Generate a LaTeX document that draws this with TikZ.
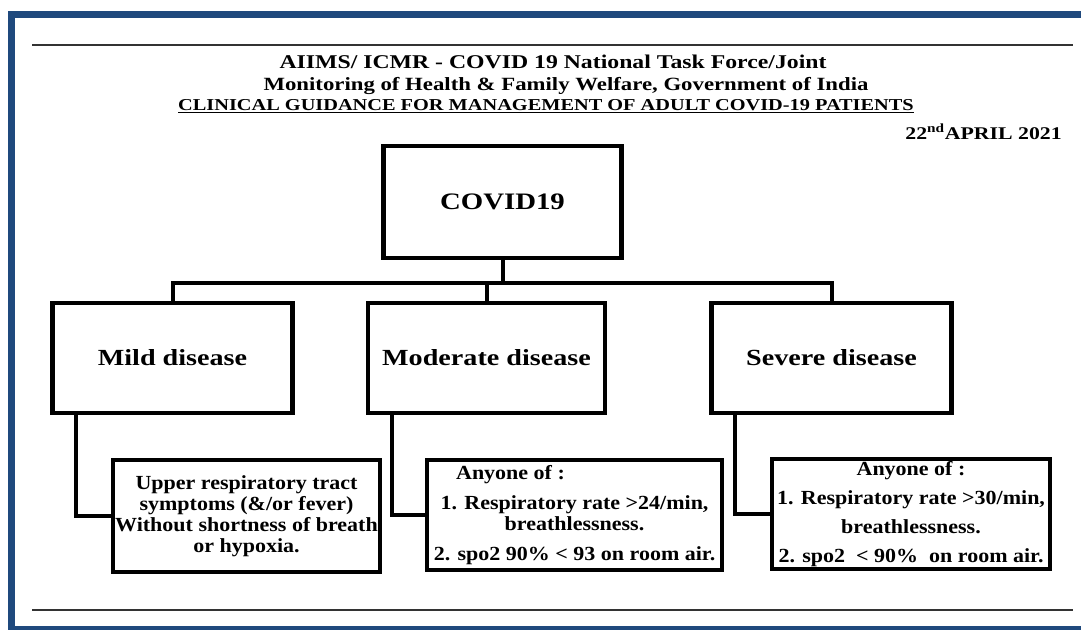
\documentclass[tikz,border=0pt]{standalone}
\usepackage{fontspec}
\setmainfont{Liberation Serif}
\newfontfamily\headfont[FakeStretch=1.22]{Liberation Serif}
\newfontfamily\notefont[FakeStretch=1.1]{Liberation Serif}
\usetikzlibrary{calc,shadows}
\definecolor{frameblue}{RGB}{31,73,125}
\tikzset{
  box/.style={draw, line width=3.6pt, fill=white, inner sep=0pt, align=center,
    drop shadow={shadow xshift=1.2pt, shadow yshift=-1.2pt, opacity=0.25}},
  head/.style={box, font=\headfont\bfseries\fontsize{17.3}{21}\selectfont},
  note/.style={box, line width=3.2pt, font=\notefont\bfseries\fontsize{15}{15.75}\selectfont},
  link/.style={line width=3pt},
  title/.style={inner sep=0pt, font=\headfont\bfseries\fontsize{14}{17}\selectfont},
  rule/.style={line width=1pt, black!80}
}

\begin{document}
\begin{tikzpicture}[x=0.75pt,y=0.75pt,yscale=-1,xscale=1]
\useasboundingbox (0,0) rectangle (1081,630);

%Frame
\draw[frameblue, line width=5.25pt] (1081,14.5) -- (11.5,14.5) -- (11.5,629) -- (1081,629);
%Straight Lines
\draw[rule] (32,45) -- (1073,45);
%Straight Lines
\draw[rule] (32,610) -- (1073,610);

%Text
\node[title, font=\headfont\bfseries\fontsize{14.6}{17}\selectfont] (title1) at (553,62) {AIIMS/ ICMR - COVID 19 National Task Force/Joint};
\node[title] (title2) at (566,86) {Monitoring of Health \& Family Welfare, Government of India};
\node[title, font=\headfont\bfseries\fontsize{12.5}{15}\selectfont] (title3) at (546,106) {\underline{CLINICAL GUIDANCE FOR MANAGEMENT OF ADULT COVID-19 PATIENTS}};
\node[title, anchor=east, font=\headfont\bfseries\fontsize{13.4}{16}\selectfont] (date) at (1062,132) {22\textsuperscript{nd}APRIL 2021};

%Shape: Rectangle
\node[head, minimum width=179pt, minimum height=84pt, font=\headfont\bfseries\fontsize{17.7}{21}\selectfont] (covid) at (502.5,202) {COVID19};
%Shape: Rectangle
\node[head, minimum width=180pt, minimum height=82.5pt] (mild) at (172.5,358) {Mild disease};
\node[head, minimum width=177.75pt, minimum height=82.5pt] (moderate) at (486.5,358) {Moderate disease};
\node[head, minimum width=180pt, minimum height=82.5pt] (severe) at (831.5,358) {Severe disease};

%Shape: Rectangle
\node[note, minimum width=200pt, minimum height=84pt] (mildsub) at (246.5,516) {Upper respiratory tract\\ symptoms (\&/or fever)\\ Without shortness of breath\\ or hypoxia.};
\node[note, minimum width=221pt, minimum height=82.5pt] (modsub) at (574.5,515) {Anyone of :\hspace*{96pt}\\[6.75pt] 1. Respiratory rate >24/min,\\ breathlessness.\\[6.75pt] 2. spo2 90\% < 93 on room air.};
\node[note, minimum width=208.5pt, minimum height=82.5pt] (sevsub) at (911,514) {Anyone of :\\[6pt] 1. Respiratory rate >30/min,\\[6pt] breathlessness.\\[6pt] 2. spo2~ < 90\%~ on room air.};

%Connectors
\coordinate (bus) at (0,283);
\draw[link] (covid.south) -- (covid.south |- bus);
\draw[link] (mild.north) -- (mild.north |- bus) -- (severe.north |- bus) -- (severe.north);
\draw[link] (moderate.north) -- (moderate.north |- bus);
\draw[link] ($(mild.south west)+(26,0)$) |- (mildsub.west);
\draw[link] ($(moderate.south west)+(26,0)$) |- (modsub.west);
\draw[link] ($(severe.south west)+(26,0)$) |- (sevsub.west);

\end{tikzpicture}
\end{document}
